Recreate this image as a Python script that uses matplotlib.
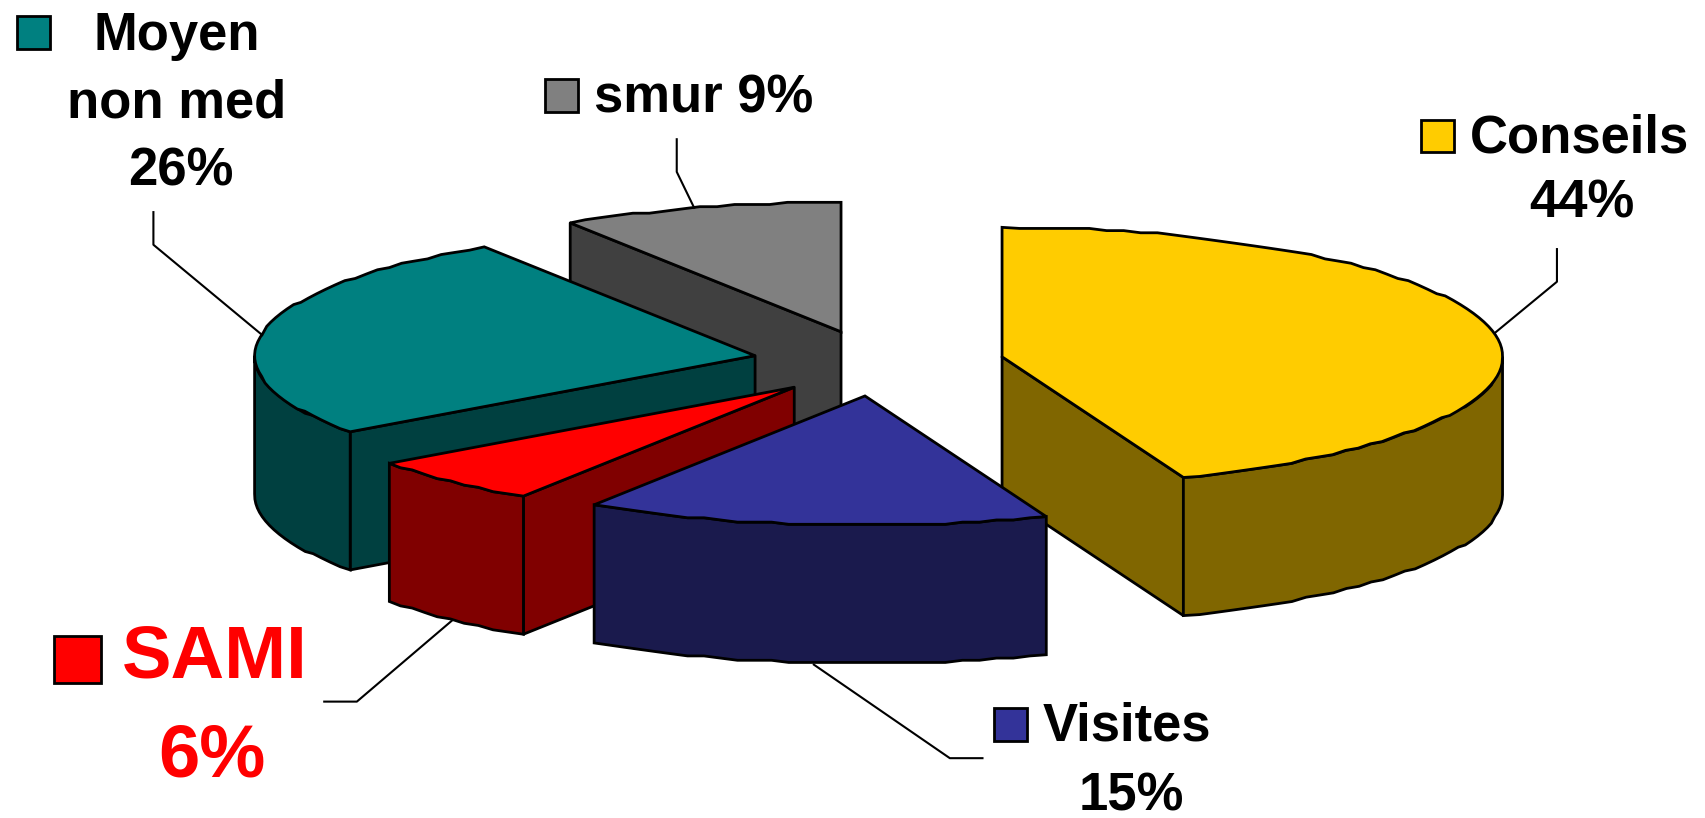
import numpy as np
import matplotlib
matplotlib.use("Agg")
import matplotlib.pyplot as plt
from matplotlib.patches import Polygon, Rectangle

plt.rcParams['font.family'] = ['Liberation Sans', 'DejaVu Sans']

# shares, in pie order (clockwise from 12 o'clock)
labels = ["Conseils", "Visites", "SAMI", "Moyen non med", "smur"]
shares = [44.1, 15, 5.9, 25.9, 9.1]

top_colors = ["#FFCC00", "#333399", "#FF0000", "#008080", "#808080"]
side_colors = ["#806600", "#1A1A4D", "#800000", "#004040", "#404040"]

# exploded position of each slice apex
apex = [(921, 328), (795, 364), (730, 356), (694, 327), (773, 305)]

RX = 460
RY = 119
DEPTH = 127
ARC_STEP = 2.0  # the original arcs are visibly coarse
LW = 2.0


def arc_points(cx, cy, a0, a1):
    n = max(2, int(abs(a1 - a0) / ARC_STEP) + 1)
    t = np.radians(np.linspace(a0, a1, n))
    pts = np.column_stack((cx + RX * np.cos(t), cy - RY * np.sin(t)))
    pts[1:-1, 1] = np.round(pts[1:-1, 1] / 2) * 2  # staircase look
    return pts


def draw_slice(ax, cx, cy, a0, a1, top, side):
    arc = arc_points(cx, cy, a0, a1)
    down = np.array([0, DEPTH])
    p0 = np.array([cx, cy])
    mid = arc[len(arc) // 2]

    # a cut face only shows if the slice lies above it on screen
    for edge in (arc[0], arc[-1]):
        if abs(edge[0] - cx) < 1:
            continue
        y_on_line = cy + (edge[1] - cy) * (mid[0] - cx) / (edge[0] - cx)
        if mid[1] < y_on_line:
            ax.add_patch(Polygon([p0, edge, edge + down, p0 + down], fc=side,
                                 ec="black", lw=LW, joinstyle="round"))

    # only the front of the rim (sin < 0) shows
    a_lo = max(min(a0, a1), -180)
    a_hi = min(max(a0, a1), 0)
    if a_hi > a_lo:
        rim = arc_points(cx, cy, a_hi, a_lo)
        wall = np.vstack((rim, (rim + down)[::-1]))
        ax.add_patch(Polygon(wall, fc=side, ec="black", lw=LW))

    ax.add_patch(Polygon(np.vstack((p0, arc)), fc=top, ec="black", lw=LW))


fig = plt.figure(figsize=(17.06, 8.18), dpi=100)
ax = fig.add_axes([0, 0, 1, 1])
ax.set_xlim(0, 1568)
ax.set_ylim(752, 0)
ax.axis("off")

angles = 90 - np.cumsum([0] + shares) * 3.6
for i in (4, 3, 2, 0, 1):
    draw_slice(ax, apex[i][0], apex[i][1], angles[i], angles[i + 1],
               top_colors[i], side_colors[i])

# leader lines
leaders = [
    [(1374, 306), (1431, 259), (1431, 229)],
    [(748, 611), (873, 697), (903, 697)],
    [(416, 570), (328, 645), (298, 645)],
    [(241, 308), (141, 225), (141, 195)],
    [(638, 191), (622, 158), (622, 128)],
]
for pts in leaders:
    xs, ys = zip(*pts)
    ax.plot(xs, ys, color="black", lw=1.5)


def legend_key(x, y, w, color):
    ax.add_patch(Rectangle((x, y), w, w, fc=color, ec="black", lw=LW))


BIG = 37.9
HUGE = 53.5
legend_key(1306, 110, 30, top_colors[0])
ax.text(1351, 127, "Conseils", fontsize=BIG, weight="bold", va="center")
ax.text(1454, 187, "44%", fontsize=BIG, weight="bold", va="center", ha="center")

legend_key(914, 651, 30, top_colors[1])
ax.text(958, 668, "Visites", fontsize=BIG, weight="bold", va="center")
ax.text(1040, 732, "15%", fontsize=BIG, weight="bold", va="center", ha="center")

legend_key(50, 585, 43, top_colors[2])
ax.text(112, 606, "SAMI", fontsize=HUGE, weight="bold", va="center", color="#FF0000")
ax.text(195, 696, "6%", fontsize=HUGE, weight="bold", va="center", ha="center",
        color="#FF0000")

legend_key(16, 15, 30, top_colors[3])
ax.text(162, 33, "Moyen", fontsize=BIG, weight="bold", va="center", ha="center")
ax.text(162, 95, "non med", fontsize=BIG, weight="bold", va="center", ha="center")
ax.text(166, 158, "26%", fontsize=BIG, weight="bold", va="center", ha="center")

legend_key(501, 73, 30, top_colors[4])
ax.text(546, 91, "smur 9%", fontsize=BIG, weight="bold", va="center")

fig.savefig("out.png", dpi=100)
